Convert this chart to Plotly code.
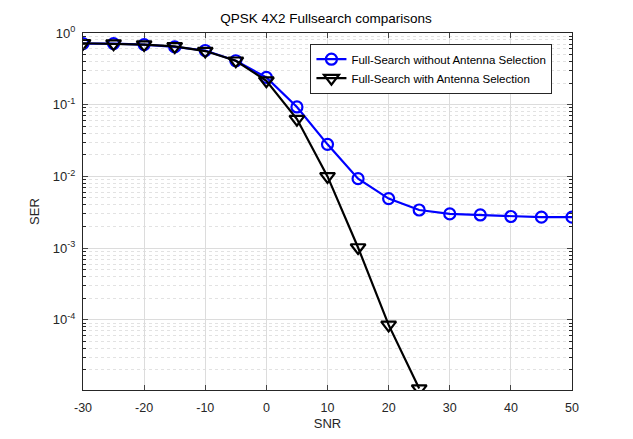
import numpy as np
import plotly.graph_objects as go

snr = [-30, -25, -20, -15, -10, -5, 0, 5, 10, 15, 20, 25, 30, 35, 40, 45, 50]
ser_no_as = [0.71, 0.71, 0.69, 0.64, 0.57, 0.41, 0.24, 0.093, 0.028, 0.0093, 0.0049,
             0.0034, 0.0030, 0.0029, 0.00276, 0.0027, 0.0027]
snr_as = [-30, -25, -20, -15, -10, -5, 0, 5, 10, 15, 20, 25]
ser_as = [0.72, 0.71, 0.69, 0.65, 0.56, 0.41, 0.216, 0.063, 0.010, 0.00102, 8.5e-5, 1.1e-5]

ytick_vals = [1e-4, 1e-3, 1e-2, 1e-1, 1]
ytick_text = ["10<sup>-4</sup>", "10<sup>-3</sup>", "10<sup>-2</sup>", "10<sup>-1</sup>", "10<sup>0</sup>"]
xtick_vals = [-30, -20, -10, 0, 10, 20, 30, 40, 50]
xtick_text = ["-30", "-20", "-10", "0", "10", "20", "30", "40", "50"]

axcol = "#262626"
fig = go.Figure()
fig.add_trace(go.Scatter(
    x=snr, y=ser_no_as, mode="lines+markers",
    name="Full-Search without Antenna Selection",
    line=dict(color="#0000ff", width=2.2),
    marker=dict(symbol="circle-open", size=11, color="#0000ff", line=dict(width=2.2)),
))
fig.add_trace(go.Scatter(
    x=snr_as, y=ser_as, mode="lines+markers",
    name="Full-Search with Antenna Selection",
    line=dict(color="#000000", width=2.2),
    marker=dict(symbol="triangle-down-open", size=13, color="#000000", line=dict(width=2.2)),
))

fig.update_layout(
    width=633, height=439,
    margin=dict(l=83, r=61, t=33, b=49),
    paper_bgcolor="white", plot_bgcolor="white",
    font=dict(family="Liberation Sans, Arial", size=11, color=axcol),
    title=dict(text="QPSK 4X2 Fullsearch comparisons", x=0.515, xanchor="center",
               y=0.958, yanchor="middle", font=dict(size=13.5, color="#000000")),
    showlegend=True,
    legend=dict(x=0.96, y=0.97, xanchor="right", yanchor="top",
                bgcolor="white", bordercolor="#262626", borderwidth=1,
                font=dict(size=11.5, color="#000000"), tracegroupgap=0,
                itemwidth=30),
)
fig.update_xaxes(
    range=[-30, 50], tickvals=xtick_vals, ticktext=xtick_text, ticks="inside", ticklen=5,
    showline=True, linecolor=axcol, linewidth=1, mirror="ticks",
    showgrid=True, gridcolor="#dcdcdc", gridwidth=1, zeroline=False,
    title=dict(text="SNR", standoff=4, font=dict(size=13)),
    tickfont=dict(size=12.5), ticklabelstandoff=6,
)
fig.update_yaxes(
    type="log", range=[np.log10(1.05e-5), 0],
    tickvals=ytick_vals, ticktext=ytick_text, ticks="inside", ticklen=5,
    showline=True, linecolor=axcol, linewidth=1, mirror="ticks",
    showgrid=True, gridcolor="#dcdcdc", gridwidth=1, zeroline=False,
    minor=dict(ticks="inside", ticklen=3, tickcolor=axcol, showgrid=True,
               gridcolor="#e2e2e2", griddash="dot", dtick="D1"),
    title=dict(text="SER", standoff=10, font=dict(size=13)),
    tickfont=dict(size=13), ticklabelstandoff=4,
)
fig.write_html("out.html")
